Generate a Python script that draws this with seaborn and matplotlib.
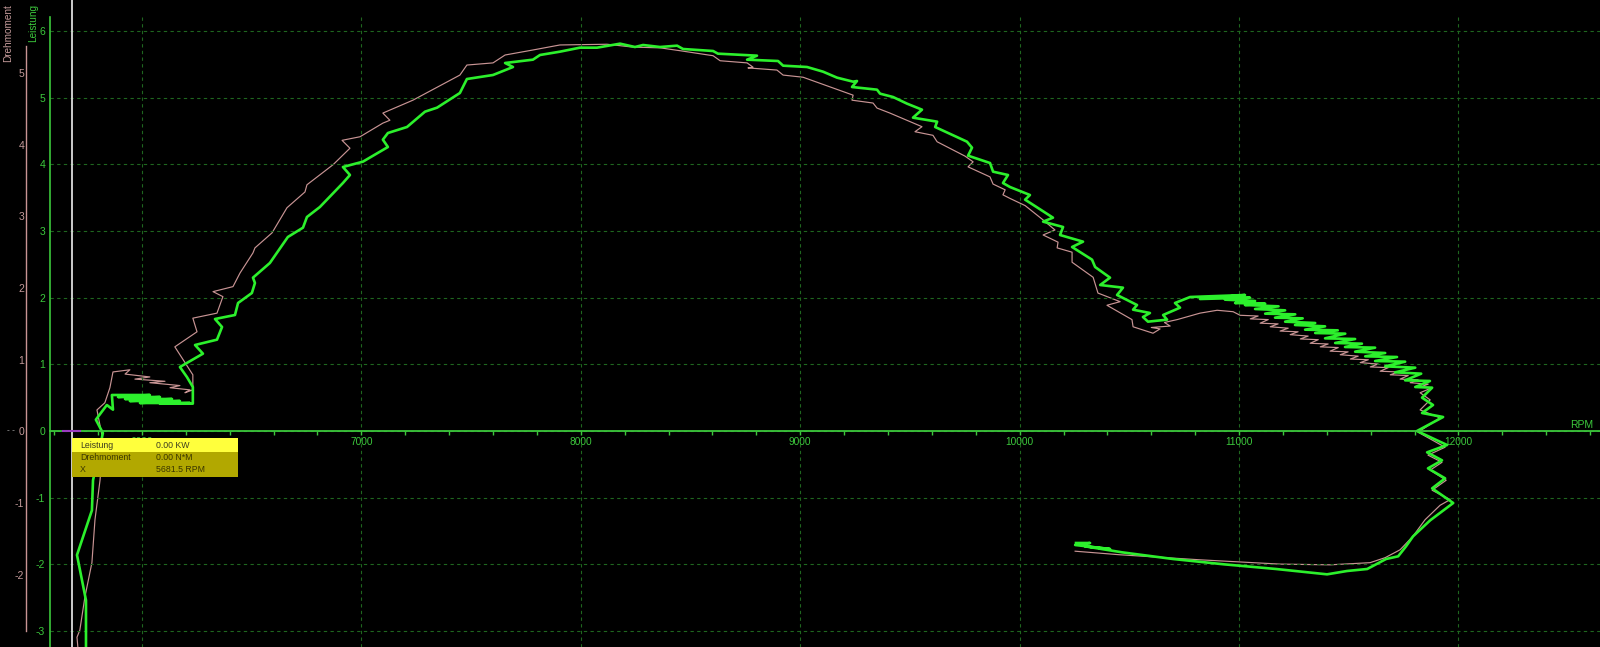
import matplotlib
matplotlib.use("Agg")
import matplotlib.pyplot as plt
import matplotlib.transforms as mtransforms
from matplotlib.lines import Line2D
from matplotlib.patches import Rectangle
from matplotlib.ticker import MultipleLocator
import seaborn as sns

# ---------------- data ----------------
leistung_rpm = [
    5745, 5745, 5704, 5772, 5777, 5822, 5790, 5840, 5868, 5863,
    6036, 5891, 6082, 5923, 6137, 5945, 6173, 5991, 6219, 6082, 6232,
    6232, 6205, 6173,
    6278, 6242, 6342, 6365, 6333, 6424, 6438, 6501, 6515, 6506,
    6583, 6665, 6734, 6752, 6811, 6916, 6948, 6916, 7007, 7121,
    7098, 7121, 7208, 7290, 7345, 7449, 7481, 7600, 7691, 7655,
    7782, 7814, 7905, 7996, 8074, 8179, 8247, 8284, 8361, 8439,
    8466, 8603, 8625, 8803, 8758, 8899, 8922, 9031, 9104, 9168,
    9241, 9259, 9236, 9350, 9364, 9423, 9487, 9555, 9514, 9624,
    9615, 9760, 9783, 9765, 9865, 9879, 9947, 9924, 9956, 10047,
    10025, 10152, 10107, 10198, 10184, 10289, 10239, 10330, 10344, 10412,
    10367, 10471, 10444, 10535, 10517, 10594, 10562, 10585, 10672, 10654,
    10731, 10708,
    10777, 11027, 10822, 11050,
    10936, 11073, 10982, 11119, 11027, 11180, 11073, 11210, 11119, 11256,
    11164, 11290, 11210, 11347, 11255, 11392, 11301, 11450, 11347, 11484,
    11392, 11529, 11438, 11560, 11483, 11620, 11529, 11666, 11575, 11720,
    11620, 11757, 11666, 11803, 11711, 11830, 11757, 11870, 11803, 11880,
    11834, 11884, 11834, 11930, 11811, 11948, 11857, 11925, 11861, 11939,
    11880, 11976, 11871,
    11793, 11761, 11725, 11670, 11584, 11492, 11401, 11169, 10932, 10699,
    10467, 10298, 10412, 10253, 10321, 10257,
]
leistung_kw = [
    -3.30, -2.54, -1.86, -1.19, -0.74, -0.03, 0.17, 0.39, 0.32, 0.54,
    0.54, 0.51, 0.51, 0.48, 0.48, 0.45, 0.45, 0.42, 0.42, 0.41, 0.41,
    0.66, 0.81, 0.96,
    1.16, 1.29, 1.37, 1.56, 1.68, 1.74, 1.92, 2.07, 2.22, 2.30,
    2.52, 2.91, 3.05, 3.21, 3.36, 3.72, 3.84, 3.96, 4.04, 4.26,
    4.37, 4.47, 4.56, 4.79, 4.85, 5.07, 5.28, 5.34, 5.46, 5.52,
    5.57, 5.64, 5.69, 5.75, 5.75, 5.81, 5.76, 5.79, 5.76, 5.78,
    5.73, 5.70, 5.66, 5.63, 5.57, 5.55, 5.48, 5.46, 5.39, 5.30,
    5.24, 5.25, 5.16, 5.12, 5.06, 5.01, 4.91, 4.82, 4.70, 4.64,
    4.56, 4.34, 4.25, 4.13, 4.02, 3.89, 3.84, 3.72, 3.66, 3.54,
    3.47, 3.20, 3.14, 3.06, 2.94, 2.84, 2.76, 2.57, 2.46, 2.30,
    2.19, 2.15, 2.04, 1.89, 1.82, 1.77, 1.71, 1.64, 1.67, 1.74,
    1.85, 1.92,
    2.01, 2.04, 1.98, 2.00,
    1.97, 1.95, 1.92, 1.91, 1.89, 1.87, 1.83, 1.81, 1.76, 1.75,
    1.70, 1.69, 1.64, 1.62, 1.59, 1.57, 1.52, 1.51, 1.47, 1.46,
    1.39, 1.38, 1.32, 1.31, 1.26, 1.25, 1.19, 1.17, 1.12, 1.11,
    1.05, 1.04, 0.97, 0.95, 0.88, 0.86, 0.76, 0.75, 0.66, 0.65,
    0.50, 0.39, 0.27, 0.21, 0.00, -0.21, -0.32, -0.44, -0.56, -0.71,
    -0.86, -1.08, -1.34,
    -1.58, -1.73, -1.88, -1.92, -2.07, -2.10, -2.15, -2.07, -2.00, -1.92,
    -1.82, -1.73, -1.77, -1.71, -1.68, -1.68,
]

drehmoment_rpm = [
    5708, 5704, 5717, 5740, 5772, 5786, 5809, 5822, 5795, 5831,
    5854, 5868, 5945, 5923, 6036, 5968, 6105, 6036, 6173, 6128,
    6219, 6196, 6232, 6232, 6150, 6251, 6232, 6342, 6369, 6324,
    6415, 6447, 6506, 6515, 6593, 6661, 6743, 6752, 6871, 6948,
    6912, 6994, 7098, 7130, 7098, 7235, 7449, 7481, 7600, 7655,
    7782, 7905, 8119, 8238, 8361, 8452, 8603, 8635, 8758, 8785,
    8762, 8894, 8922, 9013, 9122, 9241, 9236, 9332, 9350, 9409,
    9555, 9523, 9605, 9624, 9751, 9788, 9765, 9865, 9879, 9934,
    9924, 9956, 10025, 10107, 10161, 10107, 10175, 10171, 10239, 10239,
    10335, 10357, 10458, 10398, 10512, 10517, 10608, 10640, 10600, 10686,
    10660, 10718, 10822, 10900, 10973,
    11005, 11087, 11051, 11133, 11096, 11178, 11142, 11224, 11187, 11269,
    11233, 11315, 11279, 11361, 11324, 11406, 11370, 11452, 11415, 11497,
    11461, 11543, 11507, 11589, 11552, 11634, 11598, 11680, 11643, 11725,
    11689, 11771, 11734, 11816, 11780, 11862, 11826, 11880,
    11825, 11871, 11825, 11916, 11816, 11939, 11861, 11925, 11871, 11944,
    11880, 11962, 11916, 11848,
    11793, 11734, 11666, 11597, 11415, 11187, 10822, 10458, 10253,
]
drehmoment_nm = [
    -3.01, -2.87, -2.77, -2.31, -1.83, -1.23, -0.68, -0.12, 0.30, 0.40,
    0.61, 0.83, 0.86, 0.80, 0.76, 0.73, 0.70, 0.68, 0.64, 0.61,
    0.58, 0.54, 0.58, 0.79, 1.18, 1.39, 1.58, 1.65, 1.88, 1.95,
    2.02, 2.21, 2.49, 2.56, 2.77, 3.12, 3.34, 3.44, 3.72, 3.95,
    4.06, 4.11, 4.30, 4.34, 4.44, 4.62, 4.97, 5.11, 5.14, 5.25,
    5.32, 5.39, 5.40, 5.36, 5.35, 5.31, 5.24, 5.17, 5.14, 5.08,
    5.07, 5.04, 4.97, 4.94, 4.82, 4.69, 4.62, 4.58, 4.51, 4.44,
    4.25, 4.18, 4.13, 4.04, 3.84, 3.76, 3.69, 3.55, 3.45, 3.37,
    3.30, 3.25, 3.15, 2.95, 2.81, 2.74, 2.64, 2.56, 2.50, 2.36,
    2.15, 1.93, 1.81, 1.76, 1.56, 1.46, 1.37, 1.43, 1.45, 1.47,
    1.52, 1.56, 1.65, 1.69, 1.67,
    1.62, 1.61, 1.57, 1.56, 1.51, 1.50, 1.46, 1.44, 1.40, 1.39,
    1.35, 1.33, 1.29, 1.28, 1.23, 1.22, 1.18, 1.17, 1.12, 1.11,
    1.07, 1.05, 1.01, 1.00, 0.96, 0.94, 0.90, 0.89, 0.84, 0.83,
    0.79, 0.78, 0.73, 0.72, 0.68, 0.66, 0.62, 0.61,
    0.54, 0.44, 0.30, 0.19, -0.01, -0.22, -0.33, -0.43, -0.54, -0.68,
    -0.82, -0.95, -1.03, -1.23,
    -1.46, -1.65, -1.76, -1.83, -1.86, -1.85, -1.79, -1.72, -1.67,
]

x_ticks = [6000, 7000, 8000, 9000, 10000, 11000, 12000]
leistung_ticks = [-3, -2, -1, 0, 1, 2, 3, 4, 5, 6]
drehmoment_ticks = [-2, -1, 0, 1, 2, 3, 4, 5]
cursor_rpm = 5681.5
cursor_labels = ["Leistung", "Drehmoment", "X"]
cursor_values = ["0.00 KW", "0.00 N*M", "5681.5 RPM"]

# ---------------- style ----------------
plt.rcParams["font.family"] = ["Liberation Sans", "DejaVu Sans"]

GREEN_LINE = "#2cf02c"
PINK_LINE = "#c89494"
AXIS_GREEN = "#3cc83c"
GRID_GREEN = "#1f661f"
PINK_TEXT = "#c49a9a"

W, H = 1600, 647
fig = plt.figure(figsize=(W / 100, H / 100), dpi=100, facecolor="black")
ax = fig.add_axes([50 / W, 0, 1550 / W, 630 / H])
ax2 = ax.twinx()
ax.set_zorder(3)
ax2.set_zorder(2)
ax.patch.set_visible(False)
ax2.patch.set_visible(False)

ax.set_xlim(5581, 12645)
ax.set_ylim(-3.24, 6.21)
ax2.set_ylim(-3.006, 5.78)

# curves
sns.lineplot(x=drehmoment_rpm, y=drehmoment_nm, sort=False, estimator=None,
             ax=ax2, color=PINK_LINE, linewidth=0.85, legend=False)
sns.lineplot(x=leistung_rpm, y=leistung_kw, sort=False, estimator=None,
             ax=ax, color=GREEN_LINE, linewidth=1.9, legend=False)
ax.set_xlabel("")
ax.set_ylabel("")
ax2.set_xlabel("")
ax2.set_ylabel("")

# grid & axes
ax.set_xticks(x_ticks)
ax.set_xticklabels([str(t) for t in x_ticks])
ax.xaxis.set_minor_locator(MultipleLocator(200))
ax.set_yticks(leistung_ticks)
ax.set_yticklabels([str(t) for t in leistung_ticks])
ax.grid(True, which="major", color=GRID_GREEN, linestyle=(0, (3, 3)), linewidth=0.8)

for s in ("top", "right"):
    ax.spines[s].set_visible(False)
for s in ax2.spines.values():
    s.set_visible(False)
ax.spines["bottom"].set_position(("data", 0))
ax.spines["bottom"].set_color(AXIS_GREEN)
ax.spines["bottom"].set_linewidth(1.3)
ax.spines["left"].set_color(AXIS_GREEN)
ax.spines["left"].set_linewidth(1.2)

ax.tick_params(axis="x", which="major", length=3, width=1, color=AXIS_GREEN,
               labelcolor=AXIS_GREEN, labelsize=7.3, pad=1.5, direction="out")
ax.tick_params(axis="x", which="minor", length=3, width=1, color=AXIS_GREEN,
               direction="out")
ax.tick_params(axis="y", length=0, pad=3.5, labelcolor=AXIS_GREEN, labelsize=7.5)

ax2.set_yticks(drehmoment_ticks)
ax2.set_yticklabels([str(t) for t in drehmoment_ticks])
ax2.yaxis.tick_left()
ax2.tick_params(axis="y", which="both", length=0, pad=18.5, labelcolor=PINK_TEXT,
                labelsize=7.5, left=True, right=False, labelleft=True, labelright=False)

# RPM label
trans = mtransforms.blended_transform_factory(ax.transAxes, ax.transData)
ax.text(0.9955, 0.02, "RPM", transform=trans, ha="right", va="bottom",
        color=AXIS_GREEN, fontsize=7.5)

# cursor
ax.axvline(cursor_rpm, ymin=0, ymax=H / 630, color="#dcdcdc", lw=1.3,
           clip_on=False, zorder=4)
ax.plot([cursor_rpm - 40, cursor_rpm + 35], [0, 0], color="#9a3cc0", lw=1.5, zorder=4)

# Drehmoment axis line & titles
fig.add_artist(Line2D([25.5 / W, 25.5 / W], [1 - 46 / H, 1 - 631 / H],
                      color=PINK_LINE, lw=1.0, transform=fig.transFigure))
fig.text(8 / W, 1 - 4 / H, "Drehmoment", rotation=90, ha="center", va="top",
         color=PINK_TEXT, fontsize=7.2)
fig.text(33 / W, 1 - 4 / H, "Leistung", rotation=90, ha="center", va="top",
         color=AXIS_GREEN, fontsize=7.2)
fig.text(11 / W, 1 - 431 / H, "- -", ha="center", va="center",
         color="#bbbbbb", fontsize=6)

# cursor info box
bx, bw = 72, 166
fig.add_artist(Rectangle((bx / W, 1 - 477 / H), bw / W, 25 / H,
                         transform=fig.transFigure, facecolor="#b2a800",
                         edgecolor="none", zorder=10))
fig.add_artist(Rectangle((bx / W, 1 - 452 / H), bw / W, 14 / H,
                         transform=fig.transFigure, facecolor="#ffff3c",
                         edgecolor="none", zorder=10))
row_y = [445, 458, 469]
for lab, val, yy in zip(cursor_labels, cursor_values, row_y):
    col = "#3c3c20" if yy == row_y[0] else "#3a3600"
    fig.text(80 / W, 1 - yy / H, lab, ha="left", va="center", color=col,
             fontsize=6.3, zorder=11)
    fig.text(156 / W, 1 - yy / H, val, ha="left", va="center", color=col,
             fontsize=6.3, zorder=11)

fig.savefig("out.png", dpi=100, facecolor="black")
